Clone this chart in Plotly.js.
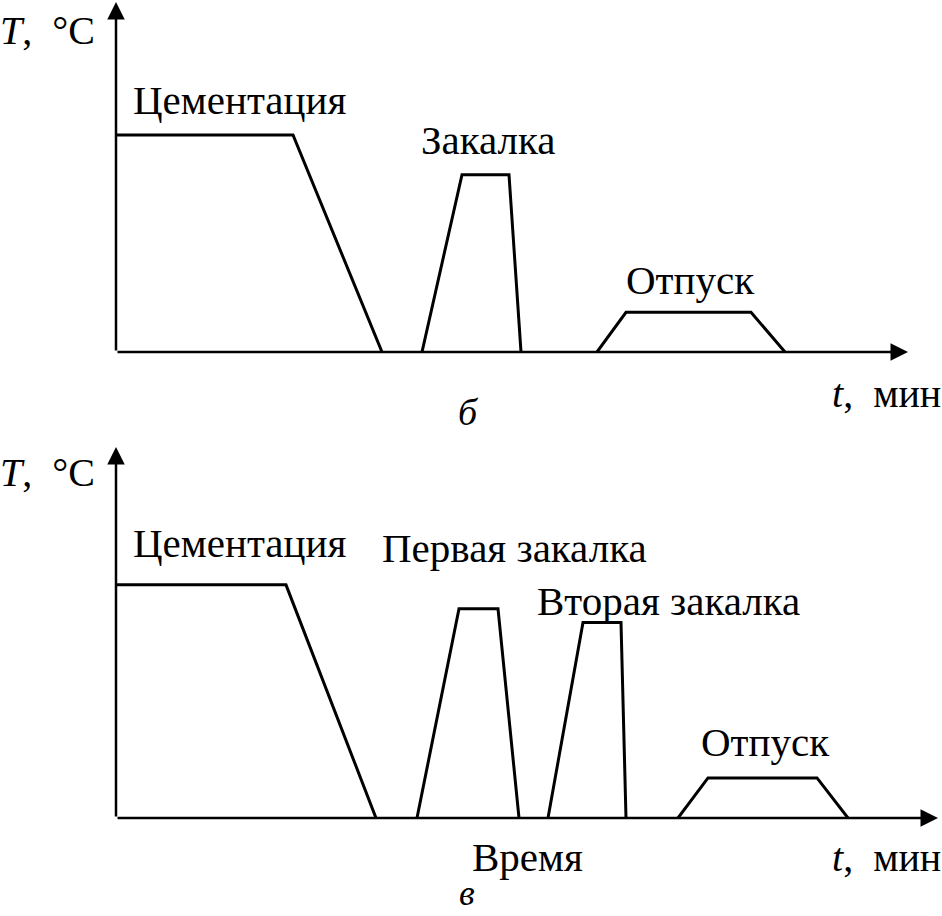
<!DOCTYPE html>
<html>
<head>
<meta charset="utf-8">
<script src="https://cdn.plot.ly/plotly-3.0.1.min.js"></script>
<style>html,body{margin:0;padding:0;background:#fff;}#chart{width:942px;height:916px;}</style>
</head>
<body>
<div id="chart"></div>
<script>
// ---- Panel б : time (arb. units), temperature (°C, schematic) ----
const cemB_t = [0, 177, 266];
const cemB_T = [930, 930, 0];
const qB_t = [306, 346, 393, 405];
const qB_T = [0, 760, 760, 0];
const tempB_t = [481, 510, 635, 669];
const tempB_T = [0, 170, 170, 0];

// ---- Panel в ----
const cemV_t = [0, 170, 260];
const cemV_T = [930, 930, 0];
const q1V_t = [301, 343, 382, 403];
const q1V_T = [0, 835, 835, 0];
const q2V_t = [432, 467, 505, 510];
const q2V_T = [0, 780, 780, 0];
const tempV_t = [562, 592, 701, 732];
const tempV_T = [0, 160, 160, 0];

// ---- Text labels ----
const yLabel = '<i>T</i>,  °C';
const xLabel = '<i>t</i>,  мин';
const labelsB = ['Цементация', 'Закалка', 'Отпуск'];
const labelsV = ['Цементация', 'Первая закалка', 'Вторая закалка', 'Отпуск'];
const timeWord = 'Время';
const panelNames = ['б', 'в'];

const W = 942, H = 916;
const px = x => x / W;
const py = y => 1 - y / H;
const FONT = 'Liberation Serif';

const lineStyle = {color: '#000', width: 3};
function seg(t, T, xa, ya) {
  return {x: t, y: T, xaxis: xa, yaxis: ya, mode: 'lines', line: lineStyle,
          hoverinfo: 'skip', showlegend: false, cliponaxis: false};
}

const data = [
  seg(cemB_t, cemB_T, 'x', 'y'),
  seg(qB_t, qB_T, 'x', 'y'),
  seg(tempB_t, tempB_T, 'x', 'y'),
  seg(cemV_t, cemV_T, 'x2', 'y2'),
  seg(q1V_t, q1V_T, 'x2', 'y2'),
  seg(q2V_t, q2V_T, 'x2', 'y2'),
  seg(tempV_t, tempV_T, 'x2', 'y2'),
];

const axisHidden = {showgrid: false, zeroline: false, showticklabels: false, ticks: '',
                    showline: false, fixedrange: true};

const xRangeB = [0, 792], yRangeB = [0, 1500];
const xRangeV = [0, 822], yRangeV = [0, 1480];

function arrow(xref, yref, x, y, ax, ay) {
  return {xref: xref, yref: yref, axref: xref, ayref: yref, x: x, y: y, ax: ax, ay: ay,
          showarrow: true, arrowhead: 2, arrowsize: 1.4, arrowwidth: 2.5, arrowcolor: '#000',
          text: '', standoff: 0, startstandoff: 0};
}
function label(text, x, y, xanchor, size) {
  return {xref: 'paper', yref: 'paper', x: px(x), y: py(y), text: text, showarrow: false,
          xanchor: xanchor || 'left', yanchor: 'middle',
          font: {family: FONT, size: size || 41, color: '#000'}};
}

const annotations = [
  // axes panel б
  arrow('x', 'y', 0, yRangeB[1], 0, 0),
  arrow('x', 'y', xRangeB[1], 0, 0, 0),
  // axes panel в
  arrow('x2', 'y2', 0, yRangeV[1], 0, 0),
  arrow('x2', 'y2', xRangeV[1], 0, 0, 0),
  // panel б texts
  label(yLabel, -2, 30, 'left', 40),
  label(labelsB[0], 131, 100),
  label(labelsB[1], 419, 140),
  label(labelsB[2], 624, 280),
  label(xLabel, 830, 393, 'left', 40),
  label('<i>' + panelNames[0] + '</i>', 468, 412, 'center', 38),
  // panel в texts
  label(yLabel, -2, 472, 'left', 40),
  label(labelsV[0], 131, 543),
  label(labelsV[1], 380, 548),
  label(labelsV[2], 535, 601),
  label(labelsV[3], 699, 742),
  label(timeWord, 470, 857),
  label(xLabel, 830, 857, 'left', 40),
  label('<i>' + panelNames[1] + '</i>', 467, 893, 'center', 36),
];

const layout = {
  width: W, height: H,
  margin: {l: 0, r: 0, t: 0, b: 0},
  paper_bgcolor: '#fff', plot_bgcolor: 'rgba(0,0,0,0)',
  showlegend: false,
  font: {family: FONT},
  xaxis: Object.assign({}, axisHidden, {domain: [px(116), px(908)], range: xRangeB, anchor: 'y'}),
  yaxis: Object.assign({}, axisHidden, {domain: [py(352), py(2)], range: yRangeB, anchor: 'x'}),
  xaxis2: Object.assign({}, axisHidden, {domain: [px(116), px(938)], range: xRangeV, anchor: 'y2'}),
  yaxis2: Object.assign({}, axisHidden, {domain: [py(818), py(447)], range: yRangeV, anchor: 'x2'}),
  annotations: annotations,
};

Plotly.newPlot('chart', data, layout, {staticPlot: true, displayModeBar: false});
</script>
</body>
</html>
